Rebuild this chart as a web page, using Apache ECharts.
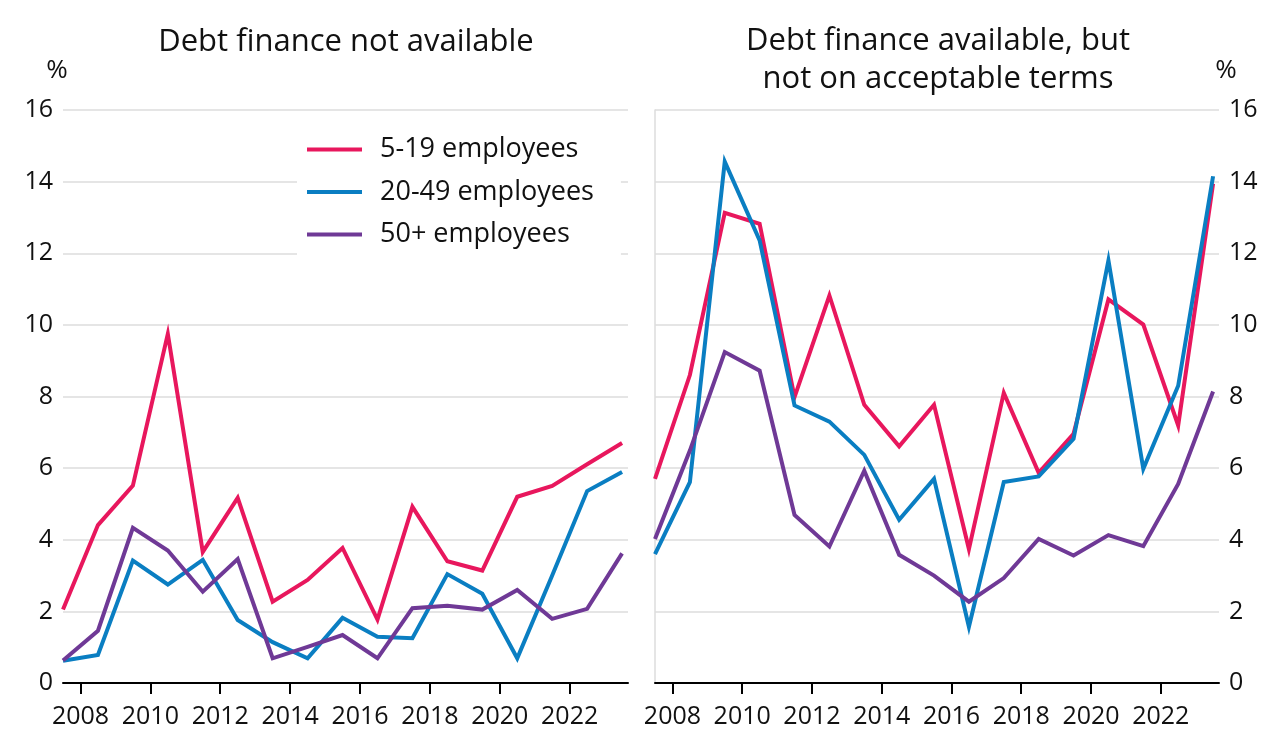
<!DOCTYPE html>
<html>
<head>
<meta charset="utf-8">
<style>
  html, body { margin: 0; padding: 0; background: #fff; }
  #chart { width: 1279px; height: 754px; }
</style>
<script src="https://cdn.jsdelivr.net/npm/echarts@6/dist/echarts.min.js"></script>
</head>
<body>
<div id="chart"></div>
<script>
// survey years (mid-year observations)
const years = [2007.5, 2008.5, 2009.5, 2010.5, 2011.5, 2012.5, 2013.5, 2014.5, 2015.5,
  2016.5, 2017.5, 2018.5, 2019.5, 2020.5, 2021.5, 2022.5, 2023.5];
const yearTicks = [2008, 2010, 2012, 2014, 2016, 2018, 2020, 2022];
const seriesNames = ['5-19 employees', '20-49 employees', '50+ employees'];
const colors = ['#E8175D', '#0A7EC2', '#6F3996'];

// Debt finance not available (%)
const notAvailSmall = [2.05, 4.41, 5.51, 9.75, 3.66, 5.17, 2.27, 2.88, 3.77, 1.77, 4.92, 3.40, 3.14, 5.20, 5.50, 6.11, 6.70];
const notAvailMedium = [0.62, 0.78, 3.42, 2.75, 3.44, 1.76, 1.14, 0.69, 1.82, 1.29, 1.25, 3.04, 2.49, 0.69, 3.00, 5.36, 5.89];
const notAvailLarge = [0.63, 1.46, 4.33, 3.70, 2.55, 3.46, 0.69, 1.01, 1.34, 0.69, 2.09, 2.16, 2.05, 2.60, 1.79, 2.07, 3.62];

// Debt finance available, but not on acceptable terms (%)
const badTermsSmall = [5.70, 8.60, 13.13, 12.82, 7.98, 10.82, 7.77, 6.61, 7.77, 3.74, 8.10, 5.87, 6.96, 10.71, 10.01, 7.19, 13.94];
const badTermsMedium = [3.60, 5.61, 14.56, 12.36, 7.75, 7.30, 6.37, 4.56, 5.70, 1.57, 5.61, 5.77, 6.82, 11.80, 5.98, 8.30, 14.15];
const badTermsLarge = [4.02, 6.49, 9.24, 8.72, 4.69, 3.81, 5.93, 3.58, 3.00, 2.27, 2.93, 4.02, 3.56, 4.13, 3.82, 5.56, 8.14];

const FONT = 'Open Sans';
const TXT = '#111';

const pairs = (ys) => years.map((x, i) => [x, ys[i]]);

function xAxisFor(gridIndex) {
  return {
    type: 'value',
    gridIndex,
    min: 2007.5,
    max: 2023.67,
    splitLine: { show: false },
    axisLine: { show: true, onZero: false, lineStyle: { color: '#000', width: 2 } },
    axisTick: { show: true, customValues: yearTicks, length: 11, lineStyle: { color: '#000', width: 2 } },
    axisLabel: {
      customValues: yearTicks,
      margin: 21,
      color: TXT,
      fontFamily: FONT,
      fontSize: 25,
      formatter: (v) => String(v),
    },
  };
}

function yAxisFor(gridIndex, position) {
  return {
    type: 'value',
    gridIndex,
    position,
    min: 0,
    max: 16,
    interval: 2,
    axisLine: { show: false },
    axisTick: { show: false },
    splitLine: { show: true, lineStyle: { color: '#dcdcdc', width: 1.5 } },
    axisLabel: { margin: 10, color: TXT, fontFamily: FONT, fontSize: 25 },
  };
}

function lineSeries(name, data, idx, xi, yi) {
  return {
    name,
    type: 'line',
    xAxisIndex: xi,
    yAxisIndex: yi,
    data: pairs(data),
    symbol: 'none',
    color: colors[idx],
    lineStyle: { color: colors[idx], width: 4, join: 'miter', miterLimit: 10 },
    z: 5,
  };
}

const titleText = (size, extra) => Object.assign(
  { fontFamily: FONT, fontSize: size, fontWeight: 'normal', color: TXT }, extra || {});

const myChart = echarts.init(document.getElementById('chart'));
const option = {
  animation: false,
  backgroundColor: '#fff',
  title: [
    {
      text: 'Debt finance not available',
      left: 346, top: 27, textAlign: 'center', padding: 0,
      textStyle: titleText(31),
    },
    {
      text: 'Debt finance available, but\nnot on acceptable terms',
      left: 938, top: 22, textAlign: 'center', padding: 0,
      textStyle: titleText(31, { lineHeight: 38 }),
    },
    { text: '%', left: 57, top: 58, textAlign: 'center', padding: 0, textStyle: titleText(26) },
    { text: '%', left: 1226, top: 58, textAlign: 'center', padding: 0, textStyle: titleText(26) },
  ],
  legend: {
    data: seriesNames,
    orient: 'vertical',
    left: 297,
    top: 124,
    padding: [12, 27, 12, 10],
    backgroundColor: '#fff',
    icon: 'rect',
    itemWidth: 55,
    itemHeight: 4,
    itemGap: 15.5,
    textStyle: { fontFamily: FONT, fontSize: 27, color: TXT, padding: [0, 0, 0, 13] },
    z: 4,
  },
  grid: [
    { left: 63, right: 651, top: 110, bottom: 71 },
    { left: 655, right: 60, top: 110, bottom: 71 },
  ],
  xAxis: [xAxisFor(0), xAxisFor(1)],
  yAxis: [
    yAxisFor(0, 'left'),
    yAxisFor(1, 'right'),
    {
      // thin separator along the left edge of the right panel
      type: 'value', gridIndex: 1, position: 'left', min: 0, max: 16,
      axisLine: { show: true, lineStyle: { color: '#dcdcdc', width: 1.5 } },
      axisTick: { show: false }, axisLabel: { show: false }, splitLine: { show: false },
    },
  ],
  series: [
    lineSeries(seriesNames[0], notAvailSmall, 0, 0, 0),
    lineSeries(seriesNames[1], notAvailMedium, 1, 0, 0),
    lineSeries(seriesNames[2], notAvailLarge, 2, 0, 0),
    lineSeries(seriesNames[0], badTermsSmall, 0, 1, 1),
    lineSeries(seriesNames[1], badTermsMedium, 1, 1, 1),
    lineSeries(seriesNames[2], badTermsLarge, 2, 1, 1),
  ],
};
myChart.setOption(option);
</script>
</body>
</html>
